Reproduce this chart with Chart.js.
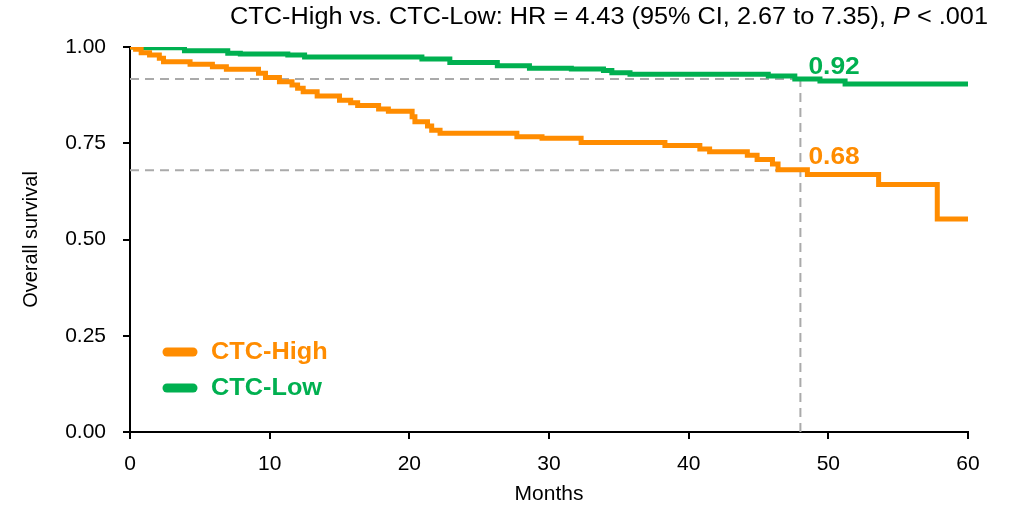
<!DOCTYPE html>
<html>
<head>
<meta charset="utf-8">
<script src="https://cdn.jsdelivr.net/npm/chart.js@4.4.0/dist/chart.umd.min.js"></script>
<style>
  body { margin: 0; background: #fff; }
  #wrap { width: 1010px; height: 509px; }
</style>
</head>
<body>
<div id="wrap"><canvas id="km" width="1010" height="509"></canvas></div>
<script>
// Kaplan-Meier steps (months, survival after the drop)
const highMonths = [0, 0.4, 0.8, 1.4, 2.1, 2.4, 4.3, 5.9, 6.9, 9.2, 9.7, 10.7, 11.6, 12.0, 12.4, 13.4, 15.0, 15.8, 16.3, 17.8, 18.5, 20.2, 20.4, 21.3, 21.6, 22.2, 27.7, 29.5, 32.3, 38.3, 40.8, 41.5, 44.2, 44.9, 46.0, 46.4, 48.5, 53.6, 57.8, 60];
const highSurv = [1, 0.994, 0.985, 0.979, 0.971, 0.962, 0.955, 0.949, 0.942, 0.932, 0.921, 0.910, 0.901, 0.893, 0.884, 0.873, 0.862, 0.855, 0.848, 0.839, 0.833, 0.819, 0.806, 0.795, 0.784, 0.776, 0.767, 0.763, 0.752, 0.744, 0.735, 0.728, 0.719, 0.708, 0.696, 0.681, 0.669, 0.643, 0.553, 0.553];

const lowMonths = [0, 0.5, 3.9, 7.0, 7.9, 11.3, 12.5, 20.9, 22.9, 26.3, 28.6, 31.6, 33.9, 34.5, 35.8, 45.7, 47.6, 49.4, 51.2, 60];
const lowSurv = [1, 0.998, 0.990, 0.984, 0.982, 0.979, 0.974, 0.969, 0.960, 0.951, 0.945, 0.943, 0.939, 0.933, 0.929, 0.925, 0.917, 0.912, 0.904, 0.904];

const seriesNames = ["CTC-High", "CTC-Low"];
const yTicks = [0, 0.25, 0.5, 0.75, 1];
const xTicks = [0, 10, 20, 30, 40, 50, 60];

// 4-year landmark
const landmarkMonth = 48;
const landmarkHigh = 0.68;
const landmarkLow = 0.917;
const landmarkLabels = ["0.68", "0.92"];

const titleText = "CTC-High vs. CTC-Low: HR = 4.43 (95% CI, 2.67 to 7.35), ";

const ORANGE = "#ff8c00";
const GREEN = "#00b050";
const DASH = "#aaaaaa";
const FONT = "'Liberation Sans', Arial, sans-serif";
const WIDEN = 1.1; // the original lettering is a bit wide

function toPoints(xs, ys) {
  return xs.map((x, i) => ({ x: x, y: ys[i] }));
}

// draw text stretched horizontally, anchored at its left edge
function wideText(c, txt, x, y) {
  c.save();
  c.translate(x, y);
  c.scale(WIDEN, 1);
  c.fillText(txt, 0, 0);
  c.restore();
  return c.measureText(txt).width * WIDEN;
}

const textPlugin = {
  id: "kmText",
  afterDraw(chart) {
    const c = chart.ctx;
    const xs = chart.scales.x;
    const ys = chart.scales.y;
    c.save();
    c.textAlign = "left";
    c.textBaseline = "middle";
    c.fillStyle = "#000";

    // title, right aligned, P in italic
    const tail = " < .001";
    c.font = "23px " + FONT;
    const headW = c.measureText(titleText).width * WIDEN;
    const tailW = c.measureText(tail).width * WIDEN;
    c.font = "italic 23px " + FONT;
    const pW = c.measureText("P").width * WIDEN;
    let x0 = 988 - tailW - pW - headW;
    c.font = "23px " + FONT;
    x0 += wideText(c, titleText, x0, 18);
    c.font = "italic 23px " + FONT;
    x0 += wideText(c, "P", x0, 18);
    c.font = "23px " + FONT;
    wideText(c, tail, x0, 18);

    // legend
    const cols = [ORANGE, GREEN];
    c.lineCap = "round";
    c.lineWidth = 9;
    c.font = "bold 23px " + FONT;
    seriesNames.forEach((name, i) => {
      const y = 352 + i * 36;
      c.strokeStyle = cols[i];
      c.beginPath();
      c.moveTo(167, y);
      c.lineTo(193, y);
      c.stroke();
      c.fillStyle = cols[i];
      wideText(c, name, 211, y + 1);
    });

    // landmark values
    c.font = "bold 24px " + FONT;
    c.textBaseline = "alphabetic";
    const lx = xs.getPixelForValue(landmarkMonth) + 8;
    c.fillStyle = GREEN;
    wideText(c, landmarkLabels[1], lx, ys.getPixelForValue(landmarkLow) - 5);
    c.fillStyle = ORANGE;
    wideText(c, landmarkLabels[0], lx, ys.getPixelForValue(landmarkHigh) - 6);
    c.restore();
  }
};

const dashStyle = {
  borderColor: DASH,
  borderWidth: 2,
  borderDash: [9, 6],
  pointRadius: 0,
  fill: false,
};

new Chart(document.getElementById("km"), {
  type: "line",
  data: {
    datasets: [
      {
        label: seriesNames[0],
        data: toPoints(highMonths, highSurv),
        borderColor: ORANGE,
        borderWidth: 5,
        stepped: "before",
        pointRadius: 0,
      },
      {
        label: seriesNames[1],
        data: toPoints(lowMonths, lowSurv),
        borderColor: GREEN,
        borderWidth: 5,
        stepped: "before",
        pointRadius: 0,
      },
      Object.assign({ data: [{ x: 0, y: landmarkLow }, { x: landmarkMonth, y: landmarkLow }] }, dashStyle),
      Object.assign({ data: [{ x: 0, y: landmarkHigh }, { x: landmarkMonth, y: landmarkHigh }] }, dashStyle),
      Object.assign({ data: [{ x: landmarkMonth, y: 0 }, { x: landmarkMonth, y: landmarkLow }] }, dashStyle),
    ],
  },
  options: {
    responsive: false,
    animation: false,
    layout: { padding: { top: 47, right: 42, left: 0, bottom: 0 } },
    plugins: {
      legend: { display: false },
      tooltip: { enabled: false },
    },
    scales: {
      x: {
        type: "linear",
        min: 0,
        max: 60,
        afterFit: (s) => { s.height = 77; },
        afterBuildTicks: (s) => { s.ticks = xTicks.map((v) => ({ value: v })); },
        grid: { drawOnChartArea: false, color: "#000", lineWidth: 2, tickLength: 7 },
        border: { color: "#000", width: 2 },
        ticks: { color: "#000", font: { family: FONT, size: 21 }, padding: 13, maxRotation: 0 },
        title: { display: true, text: "Months", color: "#000", font: { family: FONT, size: 21 }, padding: { top: 0, bottom: 2 } },
      },
      y: {
        min: 0,
        max: 1,
        afterFit: (s) => { s.width = 130; },
        afterBuildTicks: (s) => { s.ticks = yTicks.map((v) => ({ value: v })); },
        grid: { drawOnChartArea: false, color: "#000", lineWidth: 2, tickLength: 7 },
        border: { color: "#000", width: 2 },
        ticks: { color: "#000", font: { family: FONT, size: 21 }, padding: 17, callback: (v) => v.toFixed(2) },
        title: { display: true, text: "Overall survival", color: "#000", font: { family: FONT, size: 20 }, padding: { top: 19, bottom: 0 } },
      },
    },
  },
  plugins: [textPlugin],
});
</script>
</body>
</html>
